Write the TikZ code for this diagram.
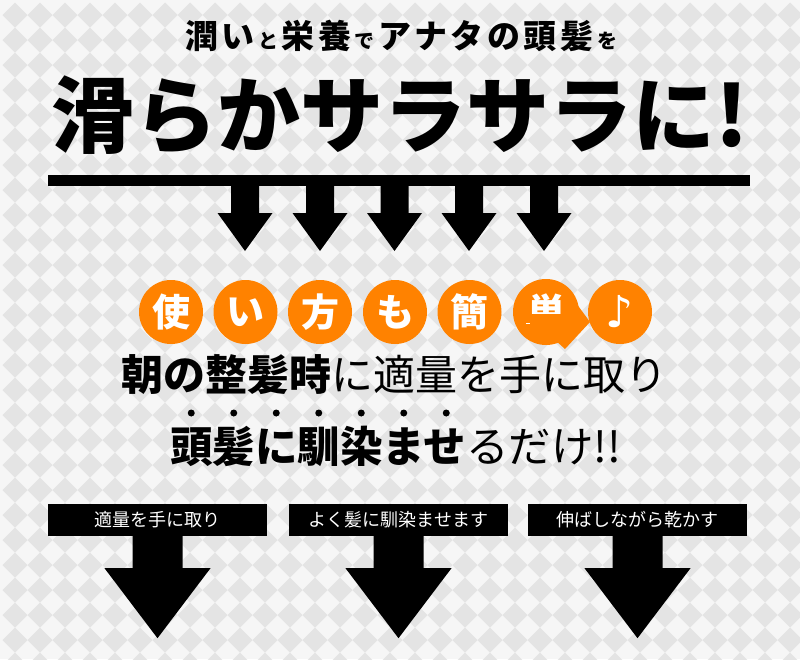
\documentclass[tikz,border=0pt]{standalone}
\usepackage{fontspec}
\newfontfamily\jp{Noto Sans CJK JP}
\newfontfamily\sym{DejaVu Sans}
\definecolor{bglight}{HTML}{F6F6F6}
\definecolor{bgdiam}{HTML}{E4E4E4}
\definecolor{orng}{HTML}{FF8200}
\newcommand\smj[1]{{\fontsize{20}{20}\selectfont #1}}
\newcommand\gp{\hspace{3.5pt}}
\tikzset{
  circ/.style={circle, fill=orng, minimum size=64, inner sep=0, text=white,
    font=\jp\bfseries\fontsize{38}{38}\selectfont},
  stepbox/.style={rectangle, fill=black, minimum width=219, minimum height=32, inner sep=0,
    text=white, font=\jp\fontsize{18}{18}\selectfont},
  emdot/.style={circle, fill=black, minimum size=7, inner sep=0}
}
\begin{document}
\begin{tikzpicture}[x=1pt,y=-1pt]
\useasboundingbox (0,0) rectangle (800,659);
% background pattern
\begin{scope}
\clip (0,0) rectangle (800,659);
\fill[bglight] (0,0) rectangle (800,659);
\foreach \i in {0,...,32} \foreach \j in {0,...,27} {
  \fill[bgdiam] ({15+25*\i},{2.5+25*\j}) -- ++(12.5,12.5) -- ++(-12.5,12.5) -- ++(-12.5,-12.5) -- cycle;
}
\end{scope}
% header
\node[anchor=base, inner sep=0, font=\jp\bfseries\fontsize{33}{33}\selectfont] (top) at (401,48)
  {潤\gp い\gp\smj{と}\gp 栄\gp 養\gp\smj{で}\gp ア\gp ナ\gp タ\gp の\gp 頭\gp 髪\gp\smj{を}};
\node[anchor=base, inner sep=0, font=\jp\bfseries\fontsize{83}{83}\selectfont] (title) at (400,146)
  {滑らかサラサラに!};
% bar with five arrows
\node[fill=black, minimum width=702, minimum height=11, inner sep=0] (bar) at (399,180.5) {};
\foreach \c in {245,320,394.5,469,544} {
  \fill ({\c-14},186) -- ({\c+14},186) -- ({\c+14},213) -- ({\c+27.5},213) -- (\c,251)
     -- ({\c-27.5},213) -- ({\c-14},213) -- cycle;
}
% orange circles
\node[circ] (c1) at (171,312) {使};
\node[circ] (c2) at (245.5,312) {い};
\node[circ] (c3) at (320,312) {方};
\node[circ] (c4) at (395,312) {も};
\node[circ] (c5) at (469.5,312) {簡};
\fill[orng] (546,312) circle (33);
\fill[orng] (576,303) -- (590,322) -- (565,349) -- (555,340) -- cycle;
\begin{scope}
\clip (500,280) rectangle (600,313);
\node[text=white, inner sep=0, font=\jp\bfseries\fontsize{38}{38}\selectfont] (c6) at (546,312) {単};
\end{scope}
\fill[white] (526,322.5) rectangle (530,324);
\node[circle, fill=orng, minimum size=64, inner sep=0, text=white, font=\sym\fontsize{44}{44}\selectfont] (c7) at (620,312) {♪};
% lines
\node[anchor=base west, inner sep=0, font=\jp\fontsize{42}{42}\selectfont] (l1) at (121,390)
  {{\bfseries 朝の整髪時}に適量を手に取り};
\node[anchor=base west, inner sep=0, font=\jp\fontsize{42.5}{42.5}\selectfont] (l2) at (170,462)
  {{\bfseries 頭髪に馴染ませ}るだけ!!};
\foreach \k in {0,...,6} {
  \node[emdot] (d\k) at ({191.25+42.5*\k},413) {};
}
% steps
\node[stepbox] (b1) at (157.5,520) {適量を手に取り};
\node[stepbox] (b2) at (398.5,520) {よく髪に馴染ませます};
\node[stepbox] (b3) at (637.5,520) {伸ばしながら乾かす};
\foreach \b in {b1,b2,b3} {
  \fill (\b.south) ++(-25,0) -- ++(50,0) -- ++(0,32) -- ++(28,0) -- ++(-53,70)
     -- ++(-53,-70) -- ++(28,0) -- cycle;
}
\end{tikzpicture}
\end{document}
